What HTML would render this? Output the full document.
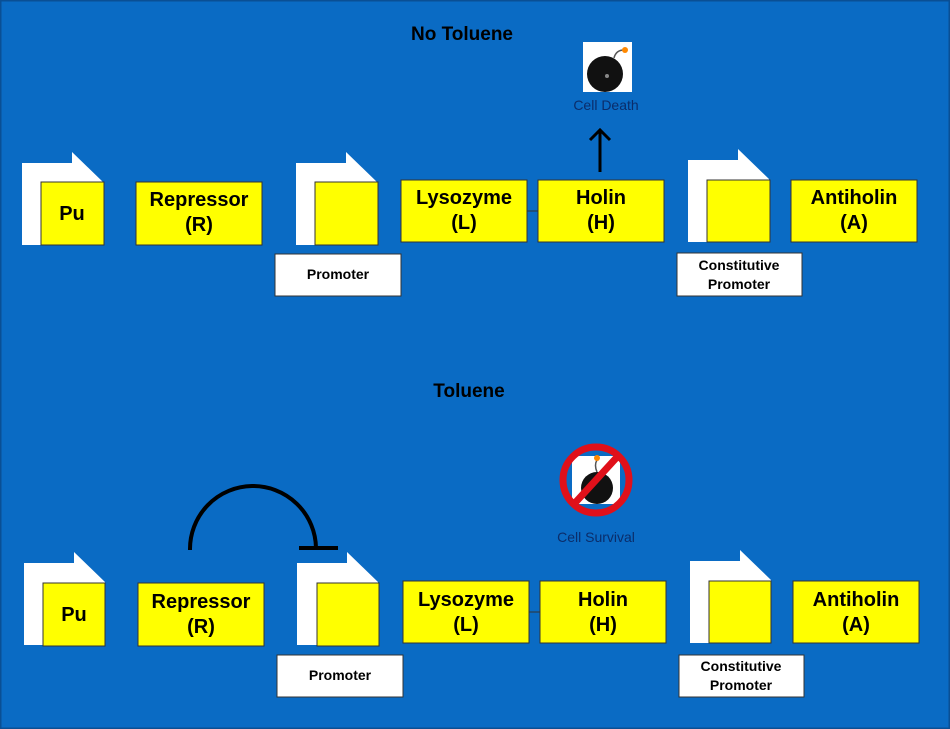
<!DOCTYPE html>
<html><head><style>body{margin:0;background:#0a6bc4}svg{display:block}text{font-family:"Liberation Sans",sans-serif}</style></head><body>
<svg width="950" height="729" viewBox="0 0 950 729" xmlns="http://www.w3.org/2000/svg">
<rect x="0" y="0" width="950" height="729" fill="#0a6bc4" stroke="#0a4f94" stroke-width="3"/>
<defs>
<g id="fold"><path d="M0,11 H50 V0 L81,30 V93 H0 Z" fill="#fff"/></g>
</defs>
<g font-weight="bold" fill="#000">
<text x="462" y="40" font-size="19" text-anchor="middle">No Toluene</text>
<text x="469" y="397" font-size="19" text-anchor="middle">Toluene</text>
</g>
<!-- top row -->
<g stroke="#333" stroke-width="1">
<line x1="527" y1="211" x2="538" y2="211"/>
<use href="#fold" x="22" y="152" stroke="none"/>
<rect x="41" y="182" width="63" height="63" fill="#ff0"/>
<rect x="136" y="182" width="126" height="63" fill="#ff0"/>
<use href="#fold" x="296" y="152" stroke="none"/>
<rect x="315" y="182" width="63" height="63" fill="#ff0"/>
<rect x="275" y="254" width="126" height="42" fill="#fff"/>
<rect x="401" y="180" width="126" height="62" fill="#ff0"/>
<rect x="538" y="180" width="126" height="62" fill="#ff0"/>
<use href="#fold" x="688" y="149" stroke="none"/>
<rect x="707" y="180" width="63" height="62" fill="#ff0"/>
<rect x="677" y="253" width="125" height="43" fill="#fff"/>
<rect x="791" y="180" width="126" height="62" fill="#ff0"/>
</g>
<g font-weight="bold" font-size="20" text-anchor="middle">
<text x="72" y="220">Pu</text>
<text x="199" y="206">Repressor</text><text x="199" y="231">(R)</text>
<text x="464" y="204">Lysozyme</text><text x="464" y="229">(L)</text>
<text x="601" y="204">Holin</text><text x="601" y="229">(H)</text>
<text x="854" y="204">Antiholin</text><text x="854" y="229">(A)</text>
</g>
<g font-weight="bold" font-size="14" text-anchor="middle">
<text x="338" y="279">Promoter</text>
<text x="739" y="270">Constitutive</text><text x="739" y="289">Promoter</text>
</g>
<line x1="600" y1="172" x2="600" y2="130" stroke="#000" stroke-width="3"/>
<path d="M590,140 L600,130 L610,140" fill="none" stroke="#000" stroke-width="3"/>
<rect x="583" y="42" width="49" height="50" fill="#fff"/>
<circle cx="605" cy="74" r="18" fill="#111"/>
<circle cx="607" cy="76" r="2" fill="#888"/>
<path d="M614,58 Q616,50 624,50" fill="none" stroke="#555" stroke-width="1.5"/>
<circle cx="625" cy="50" r="3" fill="#f80"/>
<text x="606" y="110" font-size="14" text-anchor="middle" fill="#0a2d6a">Cell Death</text>
<!-- bottom row -->
<g stroke="#333" stroke-width="1">
<line x1="529" y1="612" x2="540" y2="612"/>
<use href="#fold" x="24" y="552" stroke="none"/>
<rect x="43" y="583" width="62" height="63" fill="#ff0"/>
<rect x="138" y="583" width="126" height="63" fill="#ff0"/>
<use href="#fold" x="297" y="552" stroke="none"/>
<rect x="317" y="583" width="62" height="63" fill="#ff0"/>
<rect x="277" y="655" width="126" height="42" fill="#fff"/>
<rect x="403" y="581" width="126" height="62" fill="#ff0"/>
<rect x="540" y="581" width="126" height="62" fill="#ff0"/>
<use href="#fold" x="690" y="550" stroke="none"/>
<rect x="709" y="581" width="62" height="62" fill="#ff0"/>
<rect x="679" y="655" width="125" height="42" fill="#fff"/>
<rect x="793" y="581" width="126" height="62" fill="#ff0"/>
</g>
<g font-weight="bold" font-size="20" text-anchor="middle">
<text x="74" y="621">Pu</text>
<text x="201" y="608">Repressor</text><text x="201" y="633">(R)</text>
<text x="466" y="606">Lysozyme</text><text x="466" y="631">(L)</text>
<text x="603" y="606">Holin</text><text x="603" y="631">(H)</text>
<text x="856" y="606">Antiholin</text><text x="856" y="631">(A)</text>
</g>
<g font-weight="bold" font-size="14" text-anchor="middle">
<text x="340" y="680">Promoter</text>
<text x="741" y="671">Constitutive</text><text x="741" y="690">Promoter</text>
</g>
<path d="M190,550 A63,63 0 0 1 316,548" fill="none" stroke="#000" stroke-width="4"/>
<line x1="299" y1="548" x2="338" y2="548" stroke="#000" stroke-width="4"/>
<!-- no bomb -->
<rect x="572" y="456" width="48" height="48" fill="#fff"/>
<circle cx="597" cy="488" r="16" fill="#111"/>
<path d="M597,472 Q594,465 597,460" fill="none" stroke="#555" stroke-width="1.5"/>
<circle cx="597" cy="458" r="3" fill="#f80"/>
<circle cx="596" cy="480" r="33" fill="none" stroke="#e0101a" stroke-width="7"/>
<line x1="574" y1="504" x2="618" y2="456" stroke="#e0101a" stroke-width="7"/>
<text x="596" y="542" font-size="14" text-anchor="middle" fill="#0a2d6a">Cell Survival</text>
</svg>
</body></html>
